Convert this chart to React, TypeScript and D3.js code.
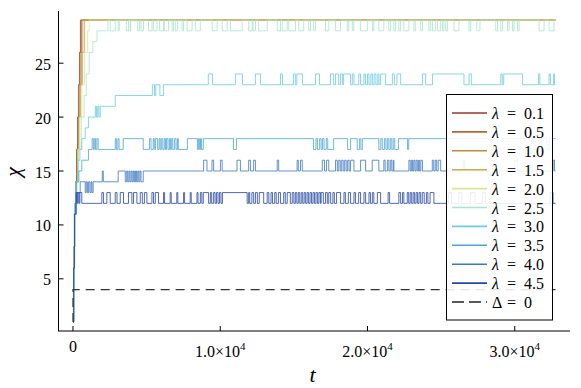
import React, { useEffect, useRef } from 'react';
import * as d3 from 'd3';

// legend labels and line colours, one per lambda
const lambdas = ['0.1', '0.5', '1.0', '1.5', '2.0', '2.5', '3.0', '3.5', '4.0', '4.5'];
const colors = ['#9a3a22', '#b06a35', '#c08b3d', '#c7ad4c', '#d6e79a', '#a9e5cc', '#6ccce0', '#4ea6d3', '#3d78c0', '#2647a3'];

// step change points [t, chi]
const path01 = [[1, 1], [30, 4], [70, 8], [110, 11], [170, 14], [240, 17], [310, 20], [370, 23], [440, 26], [505, 29]];
const path05 = [[1, 1], [35, 4], [75, 8], [120, 11], [190, 14], [260, 17], [340, 20], [410, 23], [490, 26], [575, 29]];
const path10 = [[1, 1], [40, 4], [80, 8], [125, 11], [200, 14], [290, 17], [380, 20], [470, 23], [570, 26], [670, 29]];
const path15 = [[1, 1], [40, 4], [85, 8], [130, 11], [210, 14], [310, 17], [410, 20], [520, 23], [650, 26], [790, 29]];
const path20 = [[1, 1], [45, 4], [90, 8], [135, 11], [230, 14], [340, 17], [460, 20], [600, 23], [780, 26], [1000, 28], [1100, 29]];
const path25 = [[1, 1], [45, 4], [95, 8], [140, 11], [250, 14], [380, 17], [560, 20], [760, 22], [900, 24], [1100, 26], [1350, 27], [1630, 28], [2370, 29]];
const path30 = [[1, 1], [50, 6], [110, 12], [200, 14], [330, 16], [470, 17], [600, 18], [830, 19], [1050, 20], [1850, 21], [2870, 22], [5390, 23]];
const path35 = [[1, 1], [50, 6], [100, 11], [170, 13], [250, 14], [400, 15], [600, 16], [1050, 17], [3410, 18], [4770, 17], [7770, 18]];
const path40 = [[1, 1], [50, 6], [100, 11], [160, 12], [220, 13], [490, 14], [3070, 15]];
const path45 = [[1, 1], [50, 6], [100, 11], [220, 12]];

// short excursions [tStart, tEnd, chi]
const flips25 = [
  [2530, 2870, 28], [3070, 3140, 28], [3620, 3770, 28], [3890, 3920, 28], [4390, 4520, 28], [4620, 4790, 28],
  [5130, 5370, 28], [5470, 5710, 28], [5880, 6150, 28], [6200, 6490, 28], [6730, 6830, 28], [6950, 7110, 28],
  [7410, 7510, 28], [7750, 8090, 28], [8310, 8650, 28], [9450, 9790, 28], [10130, 10470, 28], [10690, 11490, 28],
  [11930, 12170, 28], [12230, 12390, 28], [12610, 13190, 28], [13870, 14090, 28], [14210, 14550, 28], [14650, 15110, 28],
  [15330, 15670, 28], [16010, 16130, 28], [16350, 16470, 28], [17150, 17370, 28], [17830, 18170, 28], [18630, 18730, 28],
  [18970, 19070, 28], [19530, 19990, 28], [20330, 20430, 28], [20770, 21110, 28], [21450, 21570, 28], [21790, 21910, 28],
  [22130, 22250, 28], [22470, 22810, 28], [23150, 23270, 28], [23610, 23730, 28], [24170, 24290, 28], [24410, 24630, 28],
  [24750, 24970, 28], [25090, 25190, 28], [25310, 25430, 28], [25870, 26210, 28], [26890, 27010, 28], [27420, 27640, 28],
  [28710, 28830, 28], [29050, 29170, 28], [29510, 29610, 28], [29850, 29950, 28], [30190, 30290, 28], [31650, 31990, 28],
  [32330, 32670, 28]
];
const flips30 = [
  [1520, 1600, 21], [1680, 1760, 21], [5540, 5620, 22], [5900, 6140, 22],
  [9190, 9480, 24], [11030, 11510, 24], [12390, 12730, 24], [14090, 14230, 24], [14970, 15100, 24], [15200, 15590, 24],
  [16470, 16740, 24], [17490, 17700, 24], [17830, 18040, 24], [18170, 18310, 24], [18380, 18850, 24], [18970, 19080, 24],
  [19410, 19530, 24], [19760, 19870, 24], [20000, 20100, 24], [20230, 20330, 24], [20450, 20570, 24], [20700, 20780, 24],
  [20890, 21230, 24], [21690, 21820, 24], [22000, 22250, 24], [23730, 23950, 24], [24410, 26550, 24], [26900, 27050, 24],
  [29050, 29150, 24], [29250, 30530, 24], [31620, 31700, 24], [32330, 32420, 24], [32640, 32700, 24]
];
const flips35 = [
  [1300, 1380, 18], [1450, 1530, 18], [1620, 1710, 18], [2870, 2950, 18], [3050, 3130, 18],
  [5200, 5300, 18], [5450, 5520, 18], [5600, 5750, 18], [5850, 5920, 18], [6000, 6100, 18], [6200, 6280, 18],
  [6350, 6450, 18], [6550, 6620, 18], [6700, 6780, 18], [6900, 7000, 18], [7100, 7150, 18],
  [8450, 8520, 17], [8600, 8660, 17], [8730, 8850, 17], [10900, 11100, 17],
  [16330, 16500, 17], [16600, 16750, 17], [16850, 16950, 17], [17050, 17200, 17], [17300, 17700, 17],
  [18650, 18850, 17], [19300, 19450, 17], [19550, 19650, 17],
  [20770, 20900, 17], [21000, 21150, 17], [21250, 21350, 17], [21450, 21550, 17], [21650, 21750, 17], [21850, 22100, 17],
  [22720, 22800, 17], [31300, 31400, 17], [31700, 31800, 17], [32200, 32350, 17]
];
const flips40 = [
  [830, 900, 13], [980, 1060, 13], [1150, 1230, 13], [1290, 1370, 13], [1990, 2060, 15],
  [3550, 3650, 14], [3720, 3800, 14], [3870, 3950, 14], [4020, 4100, 14], [4170, 4250, 14], [4320, 4400, 14],
  [4470, 4550, 14], [4620, 4770, 14],
  [8870, 9100, 16], [9440, 9550, 16], [10010, 10130, 16], [11140, 11370, 16], [11930, 12050, 16], [12270, 12390, 16],
  [13870, 13970, 16], [15220, 15300, 16], [15450, 15570, 16], [16930, 17080, 16], [17220, 17370, 16],
  [17830, 17950, 16], [18050, 18150, 16], [18250, 18350, 16], [18450, 18550, 16], [18650, 18750, 16], [18850, 19080, 16],
  [19530, 19870, 16], [20320, 20770, 16], [21110, 21200, 16], [21350, 21450, 16], [21550, 21650, 16], [21750, 21790, 16],
  [22810, 22900, 16], [22980, 23060, 16], [23140, 23220, 16], [23300, 23380, 16], [23460, 23540, 16], [23620, 23730, 16],
  [24400, 24500, 16], [24600, 24700, 16], [24800, 24970, 16], [26500, 26600, 16], [28500, 28600, 16], [30000, 30200, 16],
  [32600, 32700, 16]
];
const flips45 = [
  [230, 300, 13], [350, 420, 13], [470, 600, 13], [1960, 2070, 13], [2300, 2530, 13], [2870, 2990, 13],
  [3210, 3430, 13], [3770, 4000, 13], [4110, 4340, 13], [4570, 4710, 13], [4850, 5020, 13], [5360, 5470, 13],
  [5590, 5810, 13], [6150, 6220, 13], [6600, 6670, 13], [7050, 7120, 13], [7510, 7580, 13], [7960, 8030, 13],
  [8420, 8490, 13], [8650, 8750, 13], [8850, 9210, 13], [9330, 9420, 13], [9550, 9650, 13], [9750, 9850, 13],
  [9950, 10050, 13], [10150, 11830, 13], [11930, 12000, 13], [12150, 12270, 13], [12390, 12520, 13], [12650, 12950, 13],
  [13190, 13300, 13], [13450, 13550, 13], [13700, 13800, 13], [13950, 14090, 13], [14310, 14420, 13], [14550, 14760, 13],
  [14890, 15000, 13], [15100, 15200, 13], [15300, 15400, 13], [15500, 15600, 13], [15700, 15800, 13], [15900, 16000, 13],
  [16100, 16200, 13], [16300, 16400, 13], [16500, 16600, 13], [16700, 16800, 13], [16850, 17000, 13], [17150, 17270, 13],
  [17370, 17500, 13], [17650, 17750, 13], [17900, 18170, 13], [18400, 18500, 13], [18700, 18850, 13], [19080, 19180, 13],
  [19400, 19530, 13], [19760, 19870, 13], [20100, 20200, 13], [20330, 20430, 13], [20670, 20890, 13], [21400, 21500, 13],
  [22130, 22250, 13], [22380, 22470, 13], [22700, 22800, 13], [22900, 23000, 13], [23100, 23200, 13], [23300, 23400, 13],
  [23500, 23610, 13], [23720, 23850, 13], [24000, 24100, 13], [24250, 24510, 13], [25500, 25700, 13], [26200, 26400, 13],
  [27000, 27300, 13], [27800, 28000, 13], [32400, 32600, 13]
];

const paths = [path01, path05, path10, path15, path20, path25, path30, path35, path40, path45];
const flips = [[], [], [], [], [], flips25, flips30, flips35, flips40, flips45];

const deltaT = [1, 2, 32768];
const deltaV = [1, 4, 4];
const tEnd = 32768;

const yTicks = [5, 10, 15, 20, 25];
const xTicks = [0, 10000, 20000, 30000];

const W = 581, H = 388;
const FONT = "'Liberation Serif', serif";

function buildSteps(path: number[][], fl: number[][]) {
  const baseAt = (t: number) => {
    let v = path[0][1];
    for (const [pt, pv] of path) if (pt <= t) v = pv;
    return v;
  };
  const ev: number[][] = path.map(([t, v]) => [t, v]);
  fl.forEach(([a, b, v]) => {
    ev.push([a, v]);
    ev.push([b, baseAt(b)]);
  });
  ev.sort((p, q) => p[0] - q[0]);
  ev.push([tEnd, ev[ev.length - 1][1]]);
  return ev;
}

export default function App() {
  const svgRef = useRef<SVGSVGElement>(null);

  useEffect(() => {
    const svg = d3.select(svgRef.current);
    svg.selectAll('*').remove();

    const x = d3.scaleLinear().domain([-983, 33751]).range([58.5, 570]);
    const y = d3.scaleLinear().domain([0.16, 29.84]).range([331, 11]);

    const line = d3.line<number[]>()
      .x(d => x(d[0]))
      .y(d => y(d[1]))
      .curve(d3.curveStepAfter);

    const plot = svg.append('g');
    paths.forEach((p, i) => {
      plot.append('path')
        .attr('d', line(buildSteps(p, flips[i])))
        .attr('fill', 'none')
        .attr('stroke', colors[i])
        .attr('stroke-width', 1)
        .attr('stroke-opacity', 0.8);
    });

    const delta = deltaT.map((t, i) => [t, deltaV[i]]);
    plot.append('path')
      .attr('d', line(delta))
      .attr('fill', 'none')
      .attr('stroke', '#333')
      .attr('stroke-width', 1.2)
      .attr('stroke-dasharray', '9,6');

    // axes
    const ax = svg.append('g').attr('stroke', '#000').attr('stroke-width', 1);
    ax.append('line').attr('x1', 58.5).attr('x2', 58.5).attr('y1', 11).attr('y2', 331);
    ax.append('line').attr('x1', 58).attr('x2', 570).attr('y1', 331).attr('y2', 331);

    yTicks.forEach(v => {
      ax.append('line').attr('x1', 58.5).attr('x2', 63.5).attr('y1', y(v)).attr('y2', y(v));
      svg.append('text')
        .attr('x', 51).attr('y', y(v) + 6.5)
        .attr('text-anchor', 'end')
        .style('font-family', FONT).attr('font-size', 16)
        .text(v);
    });

    xTicks.forEach(t => {
      ax.append('line').attr('x1', x(t)).attr('x2', x(t)).attr('y1', 331).attr('y2', 326);
      const tx = svg.append('text')
        .attr('x', x(t))
        .attr('text-anchor', 'middle')
        .style('font-family', FONT).attr('font-size', 16);
      if (t === 0) {
        tx.attr('y', 352).text('0');
      } else {
        tx.attr('y', 357);
        tx.append('tspan').text((t / 10000).toFixed(1) + '×10');
        tx.append('tspan').attr('font-size', 11).attr('dy', -7).text('4');
      }
    });

    svg.append('text')
      .attr('transform', 'translate(20,172) rotate(-90)')
      .attr('text-anchor', 'middle')
      .style('font-family', FONT).attr('font-size', 22).attr('font-style', 'italic')
      .text('χ');
    svg.append('text')
      .attr('x', 312.5).attr('y', 382)
      .attr('text-anchor', 'middle')
      .style('font-family', FONT).attr('font-size', 22).attr('font-style', 'italic')
      .text('t');

    // legend
    const lg = svg.append('g');
    lg.append('rect')
      .attr('x', 446.5).attr('y', 94.5).attr('width', 106).attr('height', 225.5)
      .attr('fill', '#fff').attr('fill-opacity', 0.88)
      .attr('stroke', '#000').attr('stroke-width', 1);
    const labels = lambdas.map(l => ({ sym: 'λ', val: l, dash: false }))
      .concat([{ sym: 'Δ', val: '0', dash: true }]);
    labels.forEach((d, i) => {
      const ry = 113 + i * 18.9;
      lg.append('line')
        .attr('x1', 452).attr('x2', 487).attr('y1', ry).attr('y2', ry)
        .attr('stroke', d.dash ? '#222' : colors[i])
        .attr('stroke-width', d.dash ? 1.4 : 1.6)
        .attr('stroke-dasharray', d.dash ? '12,5' : null);
      const tx = lg.append('text')
        .attr('y', ry + 6)
        .style('font-family', FONT).attr('font-size', 16);
      tx.append('tspan').attr('x', 492).attr('font-style', d.dash ? 'normal' : 'italic').text(d.sym);
      tx.append('tspan').attr('x', 507).text('=');
      tx.append('tspan').attr('x', 524).text(d.val);
    });
  }, []);

  return (
    <svg ref={svgRef} width={W} height={H}
      style={{ position: 'absolute', left: 0, top: 0, background: '#fff' }} />
  );
}
